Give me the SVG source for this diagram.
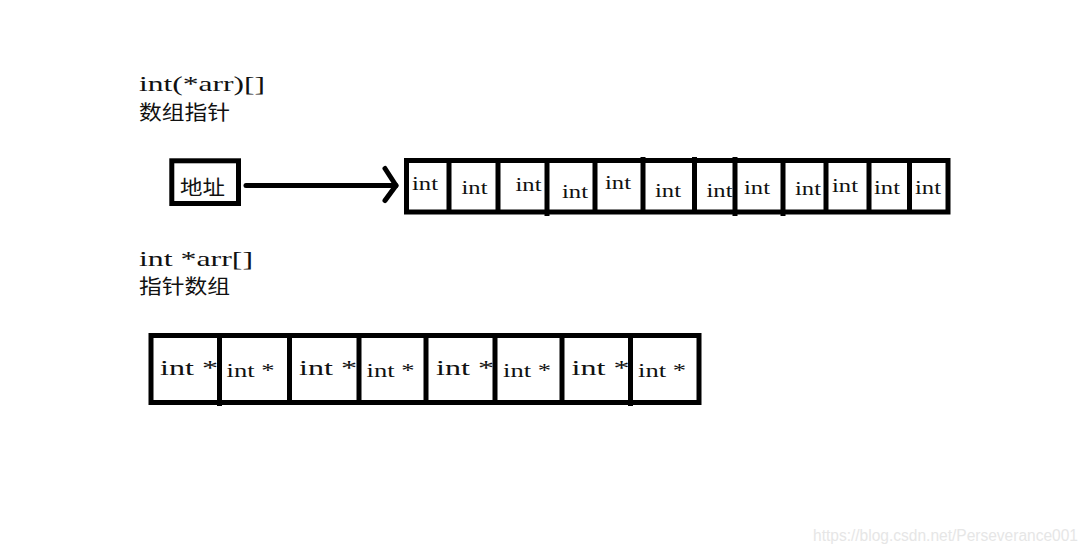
<svg xmlns="http://www.w3.org/2000/svg" width="1091" height="553" viewBox="0 0 1091 553">
<style>
.box{fill:none;stroke:#000;stroke-width:5}
.div{stroke:#000;stroke-width:5;fill:none}
.lbl{font-family:"Liberation Serif","Noto Sans CJK SC",serif;font-size:21px;fill:#111}
.cn{font-family:"Noto Sans CJK SC","Noto Sans CJK TC",sans-serif;font-size:20px;fill:#111}
.cell{font-family:"Liberation Serif",serif;font-size:18px;fill:#111}
.big{font-family:"Liberation Serif",serif;font-size:22px;fill:#111}
.sm{font-family:"Liberation Serif",serif;font-size:19px;fill:#111}
.wm{font-family:"Liberation Sans",Arial,sans-serif;font-size:16px;fill:#e6e6e6}
</style>
<defs>
<marker id="chev" markerUnits="userSpaceOnUse" markerWidth="24" markerHeight="44" viewBox="0 0 24 44" refX="16" refY="22" orient="auto" overflow="visible">
<path d="M5,5 L16,22 L5,37" fill="none" stroke="#000" stroke-width="5" stroke-linecap="round" stroke-linejoin="round"/>
</marker>
</defs>
<rect width="1091" height="553" fill="#fff"/>

<g id="title1">
<text class="lbl" x="139" y="91" textLength="126" lengthAdjust="spacingAndGlyphs">int(*arr)[]</text>
<text class="cn" x="139" y="120" textLength="91" lengthAdjust="spacingAndGlyphs">数组指针</text>
</g>

<g id="address">
<rect class="box" x="171.8" y="160.8" width="66.7" height="42.7"/>
<text class="cn" x="180" y="195" font-size="21" textLength="45" lengthAdjust="spacingAndGlyphs">地址</text>
</g>

<g id="int-array">
<rect class="box" x="406.5" y="160.5" width="541.5" height="51.5"/>
<path class="div" d="M449,160 V212 M498,160 V212 M547,160 V216 M595,160 V212 M643,157 V212 M694.5,157 V212 M735,157 V216 M783,160 V216 M826,160 V212 M869,160 V212 M909.5,160 V212"/>
<g id="c1"><text class="cell" x="412" y="190" textLength="26" lengthAdjust="spacingAndGlyphs">int</text></g>
<g id="c2"><text class="cell" x="461.5" y="194" textLength="26" lengthAdjust="spacingAndGlyphs">int</text></g>
<g id="c3"><text class="cell" x="515.5" y="191" textLength="26" lengthAdjust="spacingAndGlyphs">int</text></g>
<g id="c4"><text class="cell" x="562" y="198" textLength="26" lengthAdjust="spacingAndGlyphs">int</text></g>
<g id="c5"><text class="cell" x="605" y="189" textLength="26" lengthAdjust="spacingAndGlyphs">int</text></g>
<g id="c6"><text class="cell" x="655" y="197" textLength="26" lengthAdjust="spacingAndGlyphs">int</text></g>
<g id="c7"><text class="cell" x="706.5" y="196.5" textLength="26" lengthAdjust="spacingAndGlyphs">int</text></g>
<g id="c8"><text class="cell" x="744" y="194" textLength="26" lengthAdjust="spacingAndGlyphs">int</text></g>
<g id="c9"><text class="cell" x="795" y="195" textLength="26" lengthAdjust="spacingAndGlyphs">int</text></g>
<g id="c10"><text class="cell" x="832" y="192" textLength="26" lengthAdjust="spacingAndGlyphs">int</text></g>
<g id="c11"><text class="cell" x="874" y="194" textLength="26" lengthAdjust="spacingAndGlyphs">int</text></g>
<g id="c12"><text class="cell" x="915" y="194" textLength="26" lengthAdjust="spacingAndGlyphs">int</text></g>
</g>

<g id="title2">
<text class="lbl" x="139" y="266" textLength="114" lengthAdjust="spacingAndGlyphs">int *arr[]</text>
<text class="cn" x="139" y="294" textLength="91" lengthAdjust="spacingAndGlyphs">指针数组</text>
</g>

<g id="ptr-array">
<rect class="box" x="151" y="335.5" width="548" height="67"/>
<path class="div" d="M219.5,335 V406 M289.5,335 V403 M359,335 V403 M426,335 V403 M495,335 V403 M562,335 V403 M630.5,335 V406"/>
<g id="p1"><text class="big" x="160" y="375" textLength="58" lengthAdjust="spacingAndGlyphs">int *</text></g>
<g id="p2"><text class="sm" x="226.5" y="376.5" textLength="48" lengthAdjust="spacingAndGlyphs">int *</text></g>
<g id="p3"><text class="big" x="299" y="374.5" textLength="58" lengthAdjust="spacingAndGlyphs">int *</text></g>
<g id="p4"><text class="sm" x="366.5" y="376.5" textLength="48" lengthAdjust="spacingAndGlyphs">int *</text></g>
<g id="p5"><text class="big" x="436" y="375" textLength="58" lengthAdjust="spacingAndGlyphs">int *</text></g>
<g id="p6"><text class="sm" x="503" y="376.5" textLength="48" lengthAdjust="spacingAndGlyphs">int *</text></g>
<g id="p7"><text class="big" x="571.5" y="375" textLength="58" lengthAdjust="spacingAndGlyphs">int *</text></g>
<g id="p8"><text class="sm" x="638" y="377" textLength="48" lengthAdjust="spacingAndGlyphs">int *</text></g>
</g>

<g id="connectors">
<path d="M246,185.5 L396,185.5" fill="none" stroke="#000" stroke-width="5" stroke-linecap="round" marker-end="url(#chev)"/>
</g>

<text class="wm" x="813" y="541" textLength="265" lengthAdjust="spacingAndGlyphs">https://blog.csdn.net/Perseverance001</text>
</svg>
